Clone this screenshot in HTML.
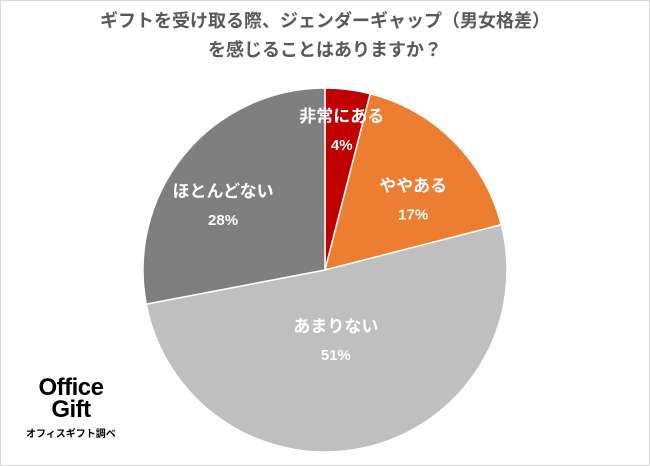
<!DOCTYPE html>
<html><head><meta charset="utf-8">
<style>
html,body{margin:0;padding:0;background:#fff;}
#wrap{position:relative;width:648px;height:464px;border:1px solid #d9d9d9;overflow:hidden;font-family:"Liberation Sans","Noto Sans CJK JP",sans-serif;}
#title{position:absolute;left:0;top:6px;width:648px;text-align:center;font-size:18px;font-weight:bold;color:#595959;line-height:29px;}
#logo{position:absolute;left:30px;top:376px;font-family:"Liberation Sans",sans-serif;font-weight:bold;font-size:24px;line-height:22px;color:#000;text-align:center;width:80px;letter-spacing:-0.5px;}
#logo-sub{position:absolute;left:25px;top:424px;font-size:10px;font-weight:bold;color:#000;}
svg{position:absolute;left:0;top:0;}
</style></head><body>
<div id="wrap">
<div id="title">ギフトを受け取る際、ジェンダーギャップ（男女格差）<br>を感じることはありますか？</div>
<svg id="pie" width="648" height="464"></svg>
<div id="logo">Office<br>Gift</div>
<div id="logo-sub">オフィスギフト調べ</div>
</div>
<script>
const categories=["非常にある","ややある","あまりない","ほとんどない"];
const values=[4,17,51,28];
const colors=["#C00000","#ED7D31","#BFBFBF","#7F7F7F"];
const labelR=[155,122,57,129];
const labelAngOff=[-1,1.3,1.6,-1.8];
const cx=324,cy=269,r=182;
const svg=document.getElementById('pie');
const NS="http://www.w3.org/2000/svg";
const total=values.reduce((a,b)=>a+b,0);
function pt(a,rr){return [cx+rr*Math.sin(a),cy-rr*Math.cos(a)];}
let a0=0;
const labels=[];
values.forEach((v,i)=>{
  const a1=a0+v/total*2*Math.PI;
  const p0=pt(a0,r),p1=pt(a1,r);
  const large=(a1-a0)>Math.PI?1:0;
  const path=document.createElementNS(NS,'path');
  path.setAttribute('d',`M${cx},${cy} L${p0[0]},${p0[1]} A${r},${r} 0 ${large} 1 ${p1[0]},${p1[1]} Z`);
  path.setAttribute('fill',colors[i]);
  path.setAttribute('stroke','#fff');
  path.setAttribute('stroke-width','1.5');
  
  
  svg.appendChild(path);
  const mid=(a0+a1)/2+labelAngOff[i]*Math.PI/180;
  labels.push([pt(mid,labelR[i]),i,v]);
  a0=a1;
});
labels.forEach(([lp,i,v])=>{
  const t=document.createElementNS(NS,'text');
  t.setAttribute('x',lp[0]);
  t.setAttribute('y',lp[1]+6);
  t.setAttribute('text-anchor','middle');
  t.setAttribute('fill','#fff');
  t.setAttribute('font-size','17');
  t.setAttribute('font-weight','bold');
  t.setAttribute('font-family','"Liberation Sans","Noto Sans CJK JP",sans-serif');
  
  
  t.textContent=categories[i];
  svg.appendChild(t);
  const t2=document.createElementNS(NS,'text');
  t2.setAttribute('x',lp[0]);
  t2.setAttribute('y',lp[1]+34);
  t2.setAttribute('text-anchor','middle');
  t2.setAttribute('fill','#fff');
  t2.setAttribute('font-size','15');
  t2.setAttribute('font-weight','bold');
  t2.setAttribute('font-family','"Liberation Sans",sans-serif');
  
  
  t2.textContent=v+'%';
  svg.appendChild(t2);
});
</script>
</body></html>
